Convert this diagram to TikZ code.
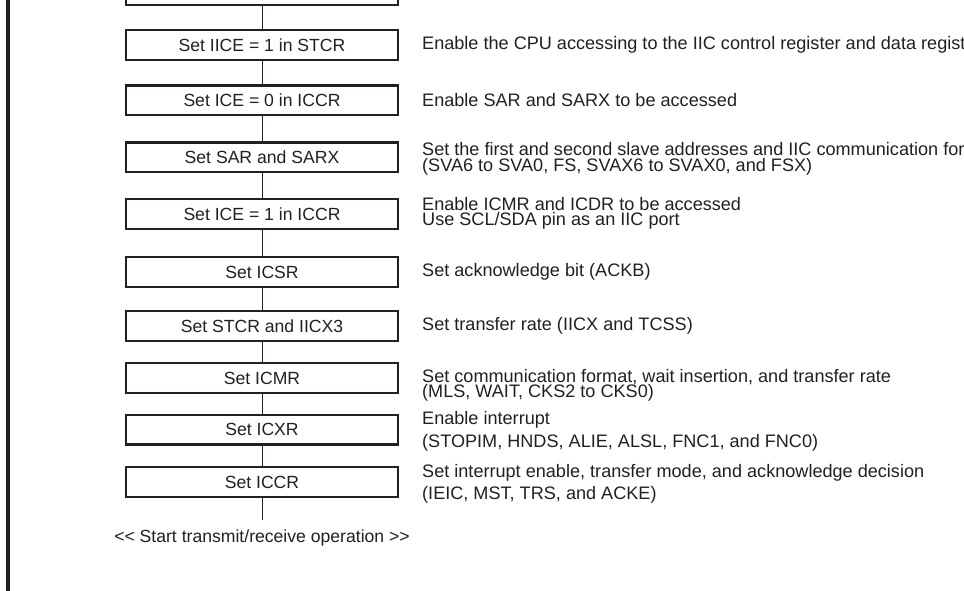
\documentclass[tikz,border=0pt]{standalone}
\usepackage{fontspec}
\setmainfont{Liberation Sans}
\definecolor{cink}{RGB}{35,31,32}
\tikzset{iicinit/.style={x=1pt,y=-1pt,line join=miter},
  setbox/.style={draw=cink,line width=2.4pt,minimum width=271.6pt,minimum height=29.6pt,
    inner sep=0pt,text=cink,font=\fontsize{17.6}{20}\selectfont},
  note/.style={anchor=west,align=left,inner sep=0pt,text=cink,font=\fontsize{18.1}{15.5}\selectfont},
  link/.style={draw=cink,line width=0.9pt}}

\begin{document}
\begin{tikzpicture}[iicinit]
    \clip (0,0) rectangle (964,591);
    \def\bx{262}\def\nx{422} % box centre, note left edge
    \draw[cink,line width=4pt] (8,0) -- (8,591);
    \node[setbox] (b0) at (\bx,-10)   {};
    \node[setbox] (b1) at (\bx,45)    {Set IICE = 1 in STCR};
    \node[setbox] (b2) at (\bx,100.5) {Set ICE = 0 in ICCR};
    \node[setbox] (b3) at (\bx,157.5) {Set SAR and SARX};
    \node[setbox] (b4) at (\bx,214)   {Set ICE = 1 in ICCR};
    \node[setbox] (b5) at (\bx,272)   {Set ICSR};
    \node[setbox] (b6) at (\bx,326)   {Set STCR and IICX3};
    \node[setbox] (b7) at (\bx,378)   {Set ICMR};
    \node[setbox] (b8) at (\bx,429.5) {Set ICXR};
    \node[setbox] (b9) at (\bx,482)   {Set ICCR};
    \coordinate (tail) at (\bx,520);
    \node[text=cink,font=\fontsize{17.6}{20}\selectfont] (start) at (\bx,538)
      {<{}< Start transmit/receive operation >{}>};
    \foreach \a/\b in {b0/b1,b1/b2,b2/b3,b3/b4,b4/b5,b5/b6,b6/b7,b7/b8,b8/b9}
      \draw[link] (\a) -- (\b);
    \draw[link] (b9) -- (tail);
    % notes on the right
    \node[note] (n1) at (\nx,45) {Enable the CPU accessing to the IIC control register and data register};
    \node[note] (n2) at (\nx,100.5) {Enable SAR and SARX to be accessed};
    \node[note] (n3) at (\nx,159) {Set the first and second slave addresses and IIC communication format\\
      (SVA6 to SVA0, FS, SVAX6 to SVAX0, and FSX)};
    \node[note] (n4) at (\nx,213.5) {Enable ICMR and ICDR to be accessed\\Use SCL/SDA pin as an IIC port};
    \node[note] (n5) at (\nx,272) {Set acknowledge bit (ACKB)};
    \node[note] (n6) at (\nx,326) {Set transfer rate (IICX and TCSS)};
    \node[note] (n7) at (\nx,385.5) {Set communication format, wait insertion, and transfer rate\\
      (MLS, WAIT, CKS2 to CKS0)};
    \node[note] (n8) at (\nx,431.5) {Enable interrupt\\[5pt](STOPIM, HNDS, ALIE, ALSL, FNC1, and FNC0)};
    \node[note] (n9) at (\nx,484) {Set interrupt enable, transfer mode, and acknowledge decision\\[4.5pt]
      (IEIC, MST, TRS, and ACKE)};
\end{tikzpicture}
\end{document}
